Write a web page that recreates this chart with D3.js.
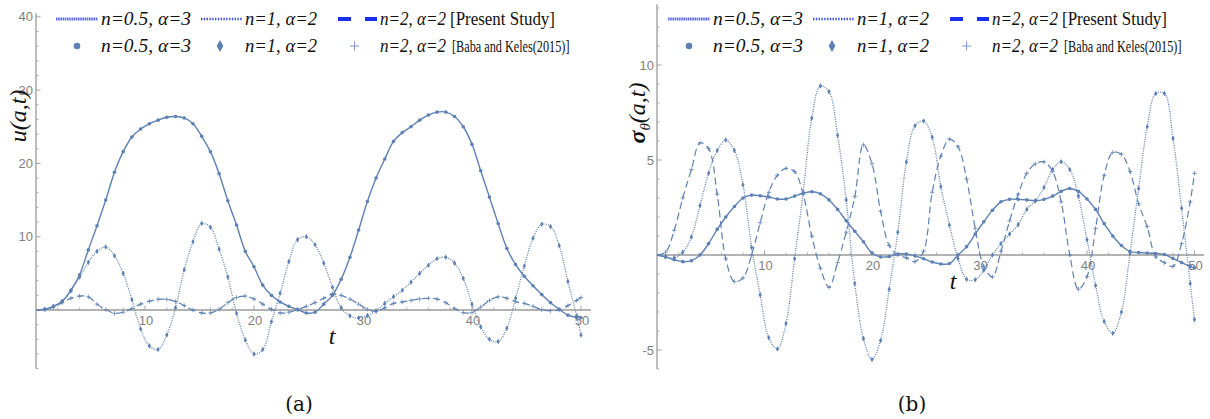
<!DOCTYPE html>
<html>
<head>
<meta charset="utf-8">
<script src="https://cdn.jsdelivr.net/npm/d3@7"></script>
<style>
  html, body { margin: 0; padding: 0; background: #fff; }
  svg { display: block; }
  .tick-label { font-family: "Liberation Sans", Arial, sans-serif; font-size: 13px; fill: #808080; }
  .leg { font-family: "Liberation Serif", "Times New Roman", serif; font-size: 18px; fill: #111; }
</style>
</head>
<body>
<svg id="chart" width="1210" height="419"></svg>
<script>
// sample times shared by every series
const tValues = [0, 0.8, 1.6, 2.4, 3.2, 4, 4.8, 5.6, 6.4, 7.2, 8, 8.8, 9.6, 10.4, 11.2, 12, 12.8, 13.6,
  14.4, 15.2, 16, 16.8, 17.6, 18.4, 19.2, 20, 20.8, 21.6, 22.4, 23.2, 24, 24.8, 25.6, 26.4, 27.2, 28,
  28.8, 29.6, 30.4, 31.2, 32, 32.8, 33.6, 34.4, 35.2, 36, 36.8, 37.6, 38.4, 39.2, 40, 40.8, 41.6,
  42.4, 43.2, 44, 44.8, 45.6, 46.4, 47.2, 48, 48.8, 49.6, 50];

// panel (a): u(a,t)
const uHalf3 = [0, 0.1, 0.5, 1.2, 2.7, 4.8, 8.2, 11.5, 15.0, 18.8,
  21.6, 23.6, 24.7, 25.4, 25.9, 26.3, 26.4, 26.2, 25.4, 23.7,
  21.6, 18.6, 14.9, 11.6, 8.0, 5.9, 3.4, 2.0, 1.1, 0.5,
  0.05, -0.4, -0.3, 0.8, 2.0, 4.2, 7.2, 10.9, 14.8, 18.0,
  20.6, 23.0, 24.2, 25.0, 25.9, 26.6, 27.0, 27.0, 26.4, 25.0,
  22.6, 19.0, 15.4, 11.8, 8.4, 6.2, 4.6, 3.3, 2.1, 1.0,
  0.1, -0.7, -1.0, -1.05];
const uOne2 = [0, 0.1, 0.5, 1.2, 2.6, 4.5, 6.5, 8.0, 8.6, 7.4,
  5.0, 1.4, -2.6, -4.9, -5.4, -3.4, 0.3, 5.5, 9.3, 11.8,
  11.3, 8.3, 4.5, -0.45, -4.1, -6.0, -5.4, -1.6, 2.3, 6.6,
  9.6, 10.0, 8.9, 6.4, 3.1, 0.3, -0.8, -1.1, -0.75, -0.1,
  0.9, 1.8, 2.7, 3.8, 5.0, 6.1, 7.0, 7.2, 6.4, 4.3,
  0.8, -2.3, -4.0, -4.3, -2.5, 1.6, 6.0, 9.8, 11.7, 11.4,
  8.8, 3.9, -0.8, -3.4];
const uTwo2 = [0, 0.1, 0.4, 1.0, 1.6, 1.9, 1.8, 0.8, 0.05, -0.45,
  -0.3, 0.2, 0.8, 1.2, 1.45, 1.45, 1.15, 0.6, 0.0, -0.4,
  -0.4, 0.1, 1.0, 1.7, 1.9, 1.5, 0.8, 0.1, -0.4, -0.3,
  0.05, 0.5, 1.0, 1.6, 2.2, 2.0, 1.5, 0.8, 0.1, -0.2,
  0.3, 0.9, 1.1, 1.3, 1.5, 1.6, 1.5, 1.0, 0.2, -0.35,
  -0.35, 0.4, 1.3, 1.8, 1.6, 1.15, 0.9, 0.5, 0.05, -0.1,
  0.0, 0.6, 1.3, 1.7];

// panel (b): sigma_theta(a,t)
const sHalf3 = [0, -0.1, -0.25, -0.35, -0.3, 0.0, 0.6, 1.35, 2.0, 2.55,
  3.0, 3.15, 3.12, 3.05, 2.95, 2.95, 3.1, 3.25, 3.33, 3.22,
  2.9, 2.4, 1.8, 1.25, 0.7, 0.1, -0.1, -0.08, 0.05, 0.05,
  -0.05, -0.2, -0.37, -0.47, -0.45, 0.0, 0.44, 1.1, 1.75, 2.35,
  2.8, 2.93, 2.93, 2.9, 2.86, 2.93, 3.1, 3.35, 3.5, 3.35,
  2.95, 2.4, 1.65, 1.0, 0.5, 0.18, 0.13, 0.1, 0.08, 0.03,
  -0.18, -0.4, -0.6, -0.68];
const sOne2 = [0, -0.1, -0.15, 0.15, 0.95, 2.6, 4.3, 5.5, 6.05, 5.5,
  3.7, 0.4, -2.1, -4.35, -4.95, -3.6, -0.2, 3.3, 7.2, 8.9,
  8.6, 6.3, 2.9, -1.5, -4.4, -5.5, -4.5, -1.8, 1.2, 4.9,
  6.8, 7.05, 6.2, 3.6, 1.58, -0.18, -1.28, -1.3, -0.8, 0.0,
  0.6, 1.1, 1.6, 2.4, 2.85, 3.55, 4.5, 4.91, 4.5, 3.1,
  0.8, -1.6, -3.5, -4.12, -3.0, 0.1, 3.5, 6.75, 8.5, 8.5,
  6.14, 2.46, -1.5, -3.4];
const sTwo2 = [0, 0.15, 1.3, 3.0, 4.5, 5.9, 5.6, 3.2, -0.2, -1.4,
  -1.2, 0.0, 1.7, 3.3, 4.2, 4.56, 4.39, 3.2, 1.0, -0.7,
  -1.7, -0.4, 1.2, 3.07, 5.8, 4.8, 2.3, 0.5, 0.0, -0.15,
  -0.35, 0.2, 3.3, 5.2, 6.1, 5.7, 4.0, 1.4, -0.6, -1.15,
  0.2, 1.8, 3.2, 4.3, 4.8, 4.9, 4.4, 2.8, 0.0, -1.8,
  -1.14, 1.4, 4.2, 5.4, 5.3, 4.4, 2.7, 1.49, -0.1, -0.4,
  -0.6, 0.6, 2.8, 4.3];

const seriesNames = ["n=0.5, \u03b1=3", "n=1, \u03b1=2", "n=2, \u03b1=2"];
const xTicksMajor = [10, 20, 30, 40, 50];
const yTicksA = [10, 20, 30, 40];
const yTicksB = [-5, 5, 10];

const col = "#5E81B5";
const svg = d3.select('#chart');
svg.append('rect').attr('width', 1210).attr('height', 419).attr('fill', '#fff');

const styles = [
  { dash: null, width: 1.4, marker: 'dot' },
  { dash: '1,1.3', width: 1.3, marker: 'diamond' },
  { dash: '7,4', width: 1.2, marker: 'plus' }
];

function drawMarker(g, kind, x, y) {
  if (kind === 'dot') {
    g.append('circle').attr('cx', x).attr('cy', y).attr('r', 1.8).attr('fill', col);
  } else if (kind === 'diamond') {
    g.append('path').attr('d', d3.symbol().type(d3.symbolDiamond).size(9)())
      .attr('transform', `translate(${x},${y})`).attr('fill', col);
  } else {
    g.append('path').attr('d', `M${x - 2.2},${y}h4.4M${x},${y - 2.2}v4.4`)
      .attr('stroke', col).attr('stroke-width', 0.8).attr('fill', 'none');
  }
}

function drawPanel(p) {
  const g = svg.append('g');
  const x = d3.scaleLinear().domain([0, 50.9]).range([p.left, p.left + 50.9 * p.xUnit]);
  const y = d3.scaleLinear().domain(p.yDomain).range([p.zeroY - p.yDomain[0] * p.yUnit, p.zeroY - p.yDomain[1] * p.yUnit]);

  // axes
  g.append('line').attr('x1', x(0)).attr('x2', x(50.9)).attr('y1', y(0)).attr('y2', y(0))
    .attr('stroke', '#9a9a9a').attr('stroke-width', 1.3);
  g.append('line').attr('x1', x(0)).attr('x2', x(0)).attr('y1', y(p.yDomain[0])).attr('y2', y(p.yDomain[1]))
    .attr('stroke', '#9a9a9a').attr('stroke-width', 1.3);

  const xMinor = d3.range(2, 51, 2).filter(v => v % 10 !== 0);
  g.selectAll(null).data(xMinor).enter().append('line')
    .attr('x1', d => x(d)).attr('x2', d => x(d)).attr('y1', y(0)).attr('y2', y(0) - 2.5)
    .attr('stroke', '#9a9a9a').attr('stroke-width', 0.8);
  g.selectAll(null).data(xTicksMajor).enter().append('line')
    .attr('x1', d => x(d)).attr('x2', d => x(d)).attr('y1', y(0)).attr('y2', y(0) - 4.5)
    .attr('stroke', '#9a9a9a').attr('stroke-width', 0.9);
  g.selectAll(null).data(xTicksMajor).enter().append('text')
    .attr('class', 'tick-label').attr('x', d => x(d) + 1).attr('y', y(0) + 15)
    .attr('text-anchor', 'middle').text(d => d);

  const yMinor = d3.range(Math.ceil(p.yDomain[0] / p.yMinorStep) * p.yMinorStep, p.yDomain[1], p.yMinorStep)
    .filter(v => Math.abs(v) > 1e-9 && !p.yTicks.includes(v));
  g.selectAll(null).data(yMinor).enter().append('line')
    .attr('x1', x(0)).attr('x2', x(0) + 2.5).attr('y1', d => y(d)).attr('y2', d => y(d))
    .attr('stroke', '#9a9a9a').attr('stroke-width', 0.8);
  g.selectAll(null).data(p.yTicks).enter().append('line')
    .attr('x1', x(0)).attr('x2', x(0) + 4.5).attr('y1', d => y(d)).attr('y2', d => y(d))
    .attr('stroke', '#9a9a9a').attr('stroke-width', 0.9);
  g.selectAll(null).data(p.yTicks).enter().append('text')
    .attr('class', 'tick-label').attr('x', x(0) - 3).attr('y', d => y(d) + 4.5)
    .attr('text-anchor', 'end').text(d => d);

  // curves + markers
  const line = d3.line().x(d => x(d.t)).y(d => y(d.v)).curve(d3.curveCatmullRom.alpha(0.5));
  p.series.forEach((vals, i) => {
    const pts = tValues.map((t, k) => ({ t, v: vals[k] }));
    const path = g.append('path').datum(pts).attr('d', line)
      .attr('fill', 'none').attr('stroke', col).attr('stroke-width', styles[i].width);
    if (styles[i].dash) path.attr('stroke-dasharray', styles[i].dash);
    pts.slice(1).forEach(d => drawMarker(g, styles[i].marker, x(d.t), y(d.v)));
  });

  // axis titles
  g.append('text').attr('x', x(0) + 296).attr('y', y(0) + 34)
    .attr('font-family', 'Liberation Serif, serif').attr('font-style', 'italic')
    .attr('font-size', 24).attr('text-anchor', 'middle').attr('fill', '#111').text('t');
  p.yTitle(g);
  g.append('text').attr('x', p.capX).attr('y', 411)
    .attr('font-family', 'DejaVu Serif, serif').attr('font-size', 20)
    .attr('text-anchor', 'middle').attr('fill', '#111').text(p.caption);

  // legend
  const L = p.legendX;
  const r1 = 25, r2 = 52;
  const lg = g.append('g');
  lg.append('line').attr('x1', L + 56).attr('x2', L + 98).attr('y1', r1 - 6).attr('y2', r1 - 6)
    .attr('stroke', '#5f6ee6').attr('stroke-width', 3).attr('stroke-dasharray', '1.6,0.6');
  lg.append('line').attr('x1', L + 201).attr('x2', L + 242).attr('y1', r1 - 6).attr('y2', r1 - 6)
    .attr('stroke', '#3a4cf0').attr('stroke-width', 2.4).attr('stroke-dasharray', '1.4,1.4');
  lg.append('line').attr('x1', L + 338).attr('x2', L + 351).attr('y1', r1 - 6).attr('y2', r1 - 6)
    .attr('stroke', '#1530ee').attr('stroke-width', 4);
  lg.append('line').attr('x1', L + 365).attr('x2', L + 377).attr('y1', r1 - 6).attr('y2', r1 - 6)
    .attr('stroke', '#1530ee').attr('stroke-width', 4);
  lg.append('circle').attr('cx', L + 77).attr('cy', r2 - 6).attr('r', 3.3).attr('fill', col);
  lg.append('path').attr('d', d3.symbol().type(d3.symbolDiamond).size(40)())
    .attr('transform', `translate(${L + 220},${r2 - 6})`).attr('fill', col);
  lg.append('path').attr('d', `M${L + 350},${r2 - 6}h9M${L + 354.5},${r2 - 10.5}v9`)
    .attr('stroke', '#7f9dd2').attr('stroke-width', 1.1);

  const textX = [L + 101, L + 245, L + 380];
  const textW = [90, 72, 66];
  [r1, r2].forEach(ry => {
    seriesNames.forEach((s, i) => {
      lg.append('text').attr('class', 'leg').attr('x', textX[i]).attr('y', ry)
        .attr('font-style', 'italic').attr('textLength', textW[i])
        .attr('lengthAdjust', 'spacingAndGlyphs').text(s);
    });
  });
  lg.append('text').attr('class', 'leg').attr('x', L + 450).attr('y', r1)
    .attr('textLength', 105).attr('lengthAdjust', 'spacingAndGlyphs').text('[Present Study]');
  // condensed source label
  lg.append('text').attr('class', 'leg')
    .attr('transform', `translate(${L + 452},${r2}) scale(0.72,1)`)
    .style('font-size', '17px').text('[Baba and Keles(2015)]');
}

drawPanel({
  left: 36, xUnit: 10.9, zeroY: 310, yUnit: 7.33, yDomain: [-8, 40.5],
  yTicks: yTicksA, yMinorStep: 2, series: [uHalf3, uOne2, uTwo2],
  capX: 299, caption: '(a)', legendX: 0,
  yTitle: g => g.append('text').attr('transform', 'translate(26,116) rotate(-90)')
    .attr('font-family', 'Liberation Serif, serif').attr('font-style', 'italic')
    .attr('font-size', 24).attr('text-anchor', 'middle').attr('fill', '#111').text('u(a,t)')
});

drawPanel({
  left: 657, xUnit: 10.75, zeroY: 255, yUnit: 19, yDomain: [-6, 13.2],
  yTicks: yTicksB, yMinorStep: 1, series: [sHalf3, sOne2, sTwo2],
  capX: 912, caption: '(b)', legendX: 612,
  yTitle: g => {
    const t = g.append('text').attr('transform', 'translate(645,113) rotate(-90)')
      .attr('font-family', 'Liberation Serif, serif').attr('font-style', 'italic')
      .attr('font-size', 24).attr('text-anchor', 'middle').attr('fill', '#111');
    t.append('tspan').attr('font-weight', 'bold').text('\u03c3');
    t.append('tspan').attr('font-size', 15).attr('dy', 5).text('\u03b8');
    t.append('tspan').attr('dy', -5).text('(a,t)');
  }
});
</script>
</body>
</html>
